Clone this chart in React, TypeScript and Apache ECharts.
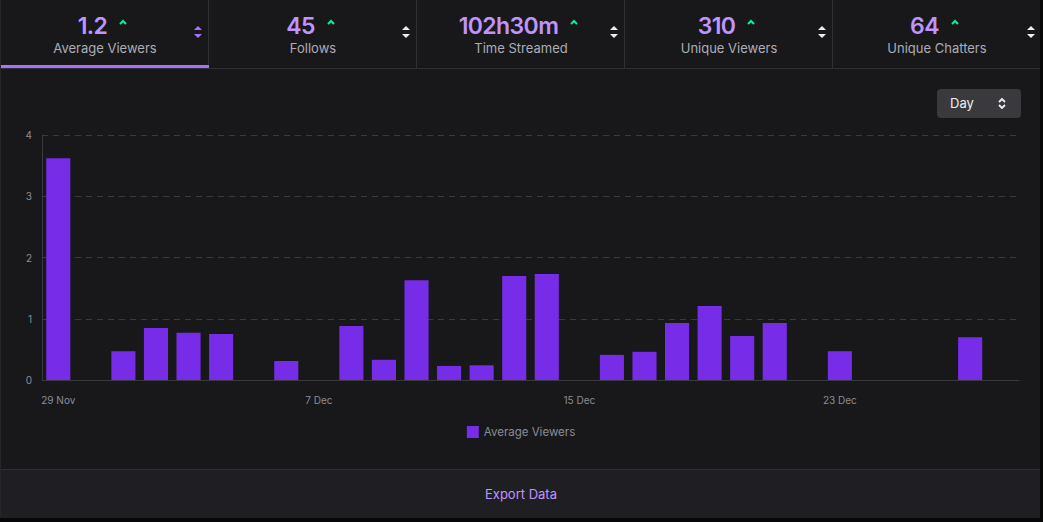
import React, { useEffect, useRef } from "react";
import * as echarts from "echarts";

const categories = [
  "29 Nov", "30 Nov", "1 Dec", "2 Dec", "3 Dec", "4 Dec", "5 Dec", "6 Dec", "7 Dec", "8 Dec",
  "9 Dec", "10 Dec", "11 Dec", "12 Dec", "13 Dec", "14 Dec", "15 Dec", "16 Dec", "17 Dec", "18 Dec",
  "19 Dec", "20 Dec", "21 Dec", "22 Dec", "23 Dec", "24 Dec", "25 Dec", "26 Dec", "27 Dec", "28 Dec",
];
const averageViewers = [
  3.62, 0, 0.47, 0.85, 0.77, 0.75, 0, 0.31, 0, 0.88,
  0.33, 1.63, 0.23, 0.24, 1.7, 1.73, 0, 0.41, 0.46, 0.93,
  1.21, 0.72, 0.93, 0, 0.47, 0, 0, 0, 0.7, 0,
];
const tabValues = ["1.2", "45", "102h30m", "310", "64"];
const tabLabels = ["Average Viewers", "Follows", "Time Streamed", "Unique Viewers", "Unique Chatters"];

const FONT = "Inter, 'Noto Sans', sans-serif";

function SortIcon({ color }: { color: string }) {
  return (
    <svg width="10" height="14" viewBox="0 0 10 14">
      <polygon points="5,1 9,5 1,5" fill={color} />
      <polygon points="1,9 9,9 5,13" fill={color} />
    </svg>
  );
}

function Caret() {
  return (
    <svg width="10" height="8" viewBox="0 0 10 8">
      <polyline points="2,6 5,3 8,6" fill="none" stroke="#00f593" strokeWidth="2" />
    </svg>
  );
}

function Chart() {
  const ref = useRef<HTMLDivElement>(null);
  useEffect(() => {
    if (!ref.current) return;
    const chart = echarts.init(ref.current, undefined, { renderer: "svg" });
    chart.setOption({
      animation: false,
      backgroundColor: "transparent",
      grid: { left: 41, right: 22, top: 67, bottom: 89 },
      legend: {
        data: ["Average Viewers"],
        bottom: 26,
        left: "center",
        icon: "rect",
        itemWidth: 12,
        itemHeight: 12,
        itemGap: 8,
        textStyle: { color: "#8c8c94", fontSize: 11.5, fontFamily: FONT },
      },
      xAxis: {
        type: "category",
        data: categories,
        axisTick: { show: false },
        axisLine: { lineStyle: { color: "#3a3a3e" } },
        axisLabel: { interval: 7, color: "#8c8c94", fontSize: 10, fontFamily: FONT, margin: 15 },
      },
      yAxis: {
        type: "value",
        min: 0,
        max: 4,
        interval: 1,
        axisLine: { show: true, lineStyle: { color: "#3a3a3e" } },
        axisTick: { show: false },
        axisLabel: { color: "#8c8c94", fontSize: 10, fontFamily: FONT, margin: 10 },
        splitLine: { lineStyle: { color: "#3a3a3e", type: [6, 5] } },
      },
      series: [
        {
          name: "Average Viewers",
          type: "bar",
          data: averageViewers,
          barCategoryGap: "26%",
          itemStyle: { color: "#772ce8" },
        },
      ],
    });
    return () => chart.dispose();
  }, []);
  return <div ref={ref} style={{ width: 1040, height: 401 }} />;
}

export default function App() {
  useEffect(() => {
    document.body.style.margin = "0";
    document.body.style.background = "#070708";
  }, []);
  return (
    <div
      style={{
        position: "relative",
        width: 1040,
        height: 518,
        background: "#18181b",
        fontFamily: FONT,
        boxSizing: "border-box",
        borderLeft: "1px solid #26262a",
        overflow: "hidden",
      }}
    >
      <div style={{ position: "absolute", left: 0, top: 0, width: 1040, height: 68, borderBottom: "1px solid #2f2f35", display: "flex" }}>
        {tabValues.map((v, i) => (
          <div
            key={i}
            style={{
              position: "relative",
              width: 208,
              height: 68,
              borderRight: i < 4 ? "1px solid #2f2f35" : "none",
              boxSizing: "border-box",
            }}
          >
            <div style={{ position: "absolute", top: 10, left: -2, width: 208, textAlign: "center", whiteSpace: "nowrap" }}>
              <span style={{ color: "#bf94ff", fontSize: 23, fontWeight: 600, letterSpacing: -0.6 }}>{v}</span>
              <span style={{ display: "inline-block", marginLeft: 11, verticalAlign: 8 }}>
                <Caret />
              </span>
            </div>
            <div style={{ position: "absolute", top: 40, left: 0, width: 208, textAlign: "center", color: "#adadb8", fontSize: 13 }}>
              {tabLabels[i]}
            </div>
            <div style={{ position: "absolute", right: 5, top: 23 }}>
              <SortIcon color={i === 0 ? "#a970ff" : "#efeff1"} />
            </div>
            {i === 0 && (
              <div style={{ position: "absolute", left: 0, bottom: 0, width: 208, height: 3, background: "#a970ff" }} />
            )}
          </div>
        ))}
      </div>
      <div style={{ position: "absolute", left: 0, top: 68 }}>
        <Chart />
      </div>
      <div
        style={{
          position: "absolute",
          left: 936,
          top: 89,
          width: 84,
          height: 29,
          background: "#3a3a3e",
          borderRadius: 4,
          color: "#efeff1",
          fontSize: 13,
          fontWeight: 400,
        }}
      >
        <span style={{ position: "absolute", left: 13, top: 6 }}>Day</span>
        <svg style={{ position: "absolute", left: 60, top: 8 }} width="10" height="13" viewBox="0 0 10 13">
          <polyline points="2,5 5,2 8,5" fill="none" stroke="#efeff1" strokeWidth="1.8" />
          <polyline points="2,8 5,11 8,8" fill="none" stroke="#efeff1" strokeWidth="1.8" />
        </svg>
      </div>
      <div
        style={{
          position: "absolute",
          left: 0,
          top: 469,
          width: 1040,
          height: 49,
          background: "#1f1f23",
          borderTop: "1px solid #2f2f35",
          boxSizing: "border-box",
          textAlign: "center",
          color: "#bf94ff",
          fontSize: 13,
          lineHeight: "48px",
        }}
      >
        Export Data
      </div>
    </div>
  );
}
